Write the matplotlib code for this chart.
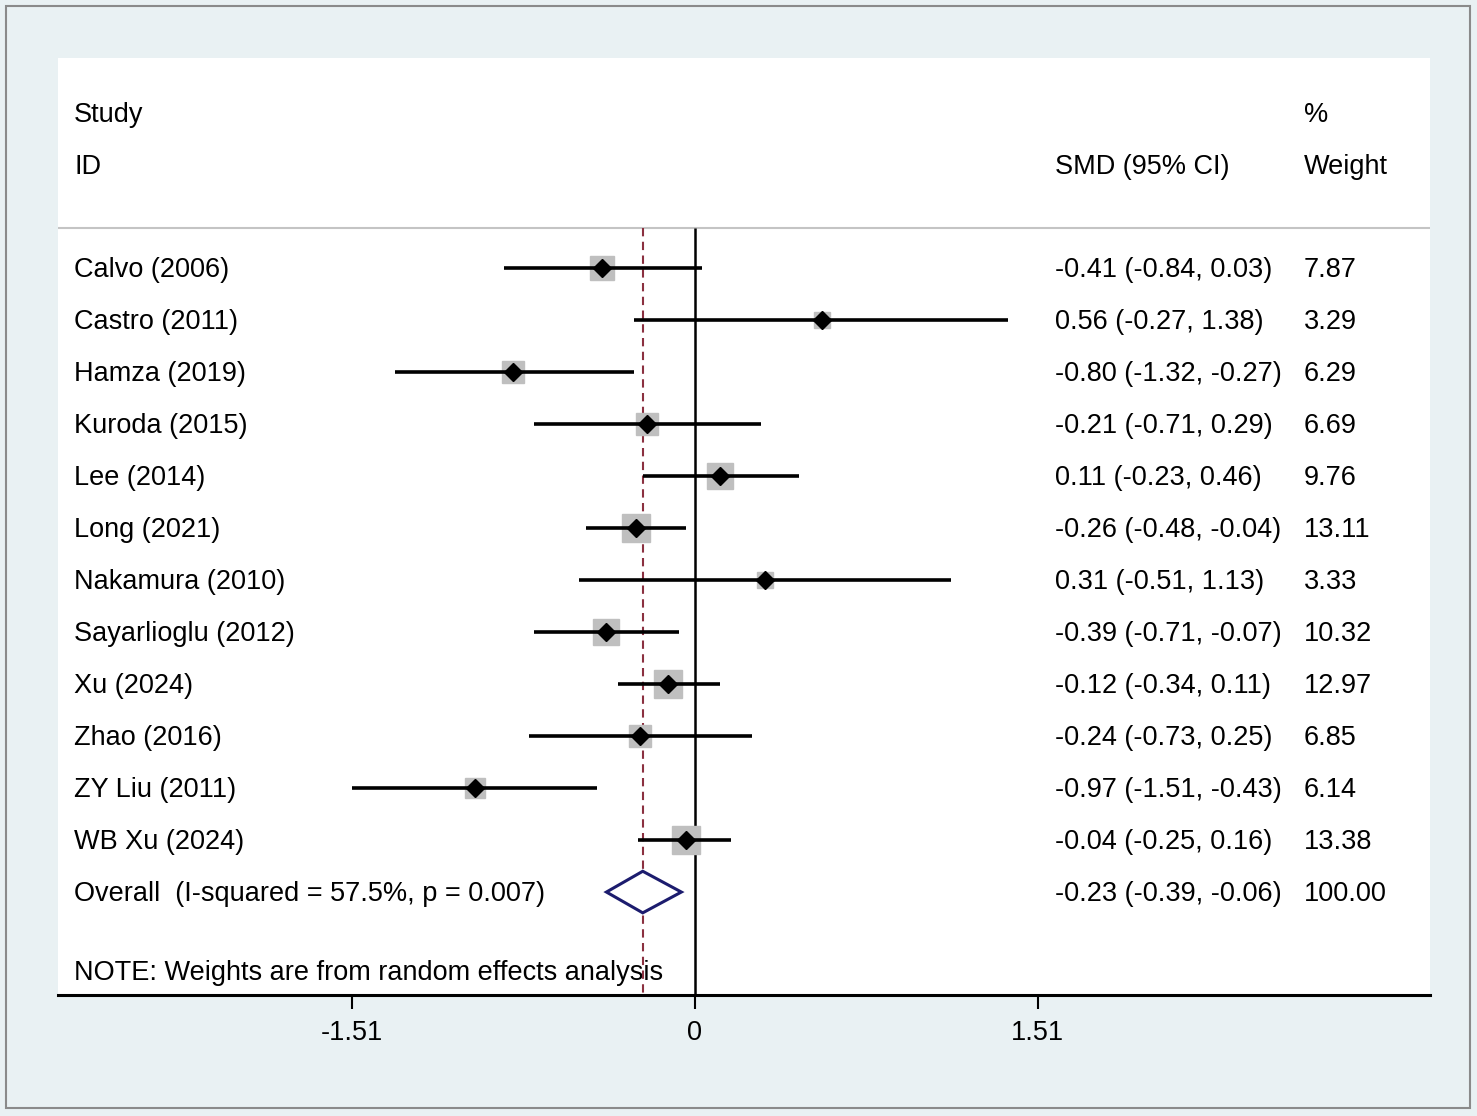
import numpy as np
import matplotlib
matplotlib.use("Agg")
import matplotlib.pyplot as plt
from matplotlib.patches import Polygon, Rectangle

plt.rcParams['font.family'] = ['Liberation Sans', 'DejaVu Sans']

# study-level data
studies = ["Calvo (2006)", "Castro (2011)", "Hamza (2019)", "Kuroda (2015)",
           "Lee (2014)", "Long (2021)", "Nakamura (2010)", "Sayarlioglu (2012)",
           "Xu (2024)", "Zhao (2016)", "ZY Liu (2011)", "WB Xu (2024)"]
smd = [-0.41, 0.56, -0.80, -0.21, 0.11, -0.26, 0.31, -0.39, -0.12, -0.24, -0.97, -0.04]
ci_lo = [-0.84, -0.27, -1.32, -0.71, -0.23, -0.48, -0.51, -0.71, -0.34, -0.73, -1.51, -0.25]
ci_hi = [0.03, 1.38, -0.27, 0.29, 0.46, -0.04, 1.13, -0.07, 0.11, 0.25, -0.43, 0.16]
weights = [7.87, 3.29, 6.29, 6.69, 9.76, 13.11, 3.33, 10.32, 12.97, 6.85, 6.14, 13.38]

# pooled estimate
overall_label = "Overall  (I-squared = 57.5%, p = 0.007)"
overall_es, overall_lo, overall_hi = -0.23, -0.39, -0.06
overall_w = 100.00

xticks = [-1.51, 0, 1.51]
xtick_labels = ["-1.51", "0", "1.51"]
note = "NOTE: Weights are from random effects analysis"

BG = "#E9F1F3"
FS = 19.5

W, H = 1477, 1116
fig = plt.figure(figsize=(W / 100, H / 100), dpi=100)
fig.patch.set_facecolor(BG)
fig.patches.append(Rectangle((6 / W, 8 / H), 1464 / W, 1102 / H, transform=fig.transFigure,
                             fill=False, edgecolor="#8a8a8a", linewidth=1.5))

ax = fig.add_axes([58 / W, 121 / H, 1372 / W, 937 / H])
ax.set_facecolor("white")

n = len(studies)
rows = np.arange(n)
y_over = n
y_top, y_bot = -4.04, 13.98
y_head = -0.77
dy = 0.04  # small nudge so text sits on the row like the reference

ax.set_xlim(-2.806, 3.238)
ax.set_ylim(y_bot, y_top)

# reference lines
ax.axhline(y_head, color="#c4c4c4", linewidth=1.5, zorder=1)
ax.vlines(0, y_head, y_bot, color="black", linewidth=1.8, zorder=2)
ax.vlines(overall_es, y_head, y_bot, color="#8b3040", linewidth=1.5,
          linestyles=(0, (4, 2.6)), zorder=2)

# study estimates
sizes = (4 + 6.8 * np.sqrt(weights)) * 0.72
for y, es, lo, hi, s in zip(rows, smd, ci_lo, ci_hi, sizes):
    ax.plot([es], [y], marker="s", markersize=s, color="#bfbfbf", linestyle="none", zorder=3)
    ax.plot([lo, hi], [y, y], color="black", linewidth=2.6, solid_capstyle="butt", zorder=4)
    ax.plot([es], [y], marker="D", markersize=9.5, color="black", linestyle="none", zorder=5)

# pooled diamond
dh = 0.4
diamond = Polygon([(overall_lo, y_over), (overall_es, y_over - dh),
                   (overall_hi, y_over), (overall_es, y_over + dh)],
                  closed=True, facecolor="white", edgecolor="#1c1c6e", linewidth=2.2, zorder=5)
ax.add_patch(diamond)

# text columns
tr = ax.get_yaxis_transform()
x_lab, x_ci, x_w = 0.0117, 0.7267, 0.908
ax.text(x_lab, -2.98 + dy, "Study", transform=tr, fontsize=FS, va="center")
ax.text(x_lab, -1.98 + dy, "ID", transform=tr, fontsize=FS, va="center")
ax.text(x_ci, -1.98 + dy, "SMD (95% CI)", transform=tr, fontsize=FS, va="center")
ax.text(x_w, -2.98 + dy, "%", transform=tr, fontsize=FS, va="center")
ax.text(x_w, -1.98 + dy, "Weight", transform=tr, fontsize=FS, va="center")

for y, name, es, lo, hi, w in zip(rows, studies, smd, ci_lo, ci_hi, weights):
    ax.text(x_lab, y + dy, name, transform=tr, fontsize=FS, va="center")
    ax.text(x_ci, y + dy, f"{es:.2f} ({lo:.2f}, {hi:.2f})", transform=tr, fontsize=FS, va="center")
    ax.text(x_w, y + dy, f"{w:.2f}", transform=tr, fontsize=FS, va="center")

ax.text(x_lab, y_over + dy, overall_label, transform=tr, fontsize=FS, va="center")
ax.text(x_ci, y_over + dy, f"{overall_es:.2f} ({overall_lo:.2f}, {overall_hi:.2f})",
        transform=tr, fontsize=FS, va="center")
ax.text(x_w, y_over + dy, f"{overall_w:.2f}", transform=tr, fontsize=FS, va="center")
ax.text(x_lab, 13.52 + dy, note, transform=tr, fontsize=FS, va="center", zorder=1)

# axes styling
for side in ["top", "left", "right"]:
    ax.spines[side].set_visible(False)
ax.spines["bottom"].set_linewidth(2.2)
ax.set_yticks([])
ax.set_xticks(xticks)
ax.set_xticklabels(xtick_labels, fontsize=FS)
ax.tick_params(axis="x", length=10, width=1.5, pad=8, direction="out")

fig.savefig("out.png", dpi=100, facecolor=BG)
